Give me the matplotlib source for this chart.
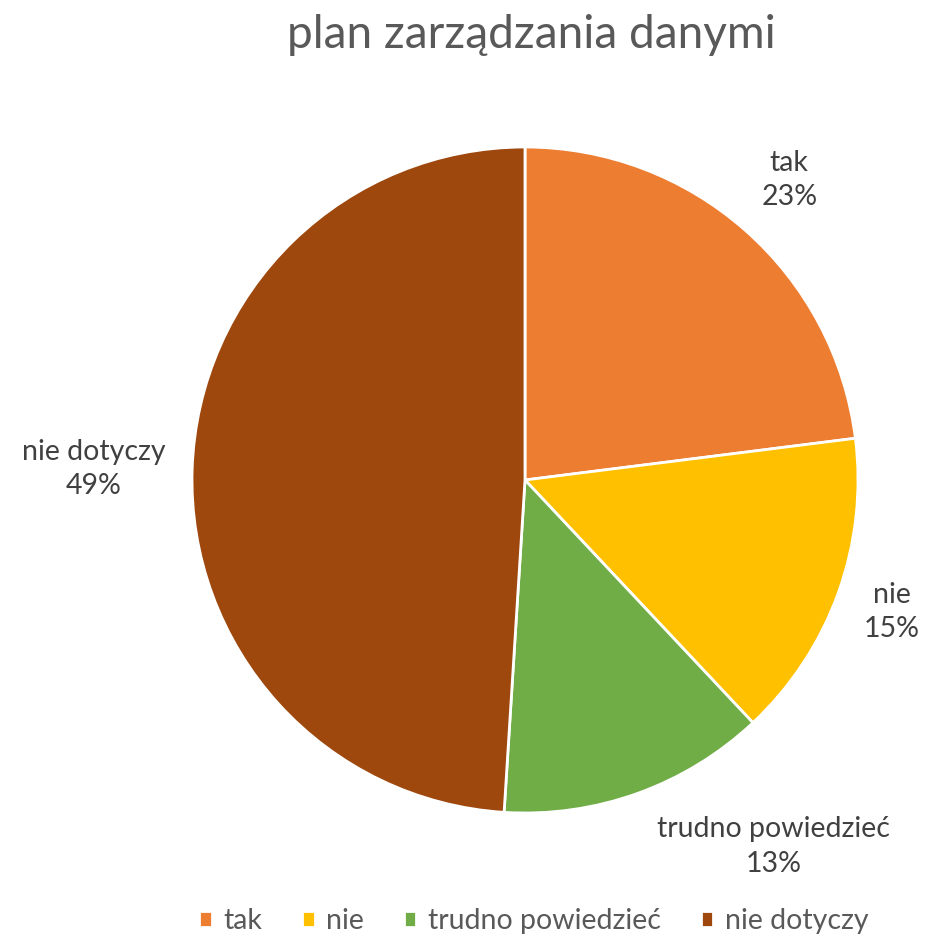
import numpy as np
import matplotlib.pyplot as plt

plt.rcParams['font.family'] = ['Lato', 'DejaVu Sans']

categories = ['tak', 'nie', 'trudno powiedzieć', 'nie dotyczy']
values = [23, 15, 13, 49]
colors = ['#ED7D31', '#FFC000', '#70AD47', '#9E480E']

fig = plt.figure(figsize=(9.28, 9.41), dpi=100)
ax = fig.add_axes([192 / 928, 128 / 941, 666 / 928, 666 / 941])

wedges, _ = ax.pie(values, colors=colors, startangle=90, counterclock=False,
                   radius=1, wedgeprops=dict(edgecolor='white', linewidth=2))
ax.set_xlim(-1, 1)
ax.set_ylim(-1, 1)

dist = [1.2, 1.17, 1.17, 1.08]
align = ['center', 'center', 'left', 'right']
for w, cat, v, d, ha in zip(wedges, categories, values, dist, align):
    ang = np.deg2rad((w.theta1 + w.theta2) / 2)
    ax.text(d * np.cos(ang), d * np.sin(ang), f'{cat}\n{v}%', ha=ha, va='center',
            multialignment='center', fontsize=20.5, color='#404040',
            linespacing=1.4, clip_on=False)

fig.text(0.573, 0.963, 'plan zarządzania danymi', ha='center', va='center',
         fontsize=33, color='#595959')

fig.legend(wedges, categories, loc='center', bbox_to_anchor=(0.575, 0.021),
           ncol=4, frameon=False, fontsize=20.5, labelcolor='#595959',
           handlelength=0.45, handleheight=0.45, handletextpad=0.4, columnspacing=1.4)

fig.savefig('out.png', dpi=100, facecolor='white')
